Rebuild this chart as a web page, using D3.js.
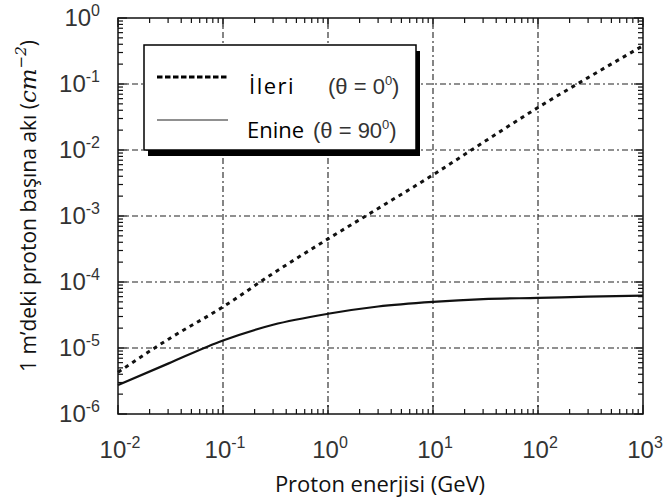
<!DOCTYPE html>
<html>
<head>
<meta charset="utf-8">
<script src="https://cdn.jsdelivr.net/npm/d3@7"></script>
<style>
  body { margin: 0; background: #fff; }
  svg { display: block; }
</style>
</head>
<body>
<div id="chart"></div>
<script>
// energies (GeV) and flux per proton per m (cm^-2)
const energyGeV = [0.01, 0.03, 0.1, 0.3, 1, 3, 10, 30, 100, 300, 1000];
const forwardFlux = [4.3e-6, 1.35e-5, 4.2e-5, 1.35e-4, 4.5e-4, 1.3e-3, 4.2e-3, 1.3e-2, 4.4e-2, 0.125, 0.38];
const transverseFlux = [2.75e-6, 5.8e-6, 1.3e-5, 2.25e-5, 3.3e-5, 4.25e-5, 5.0e-5, 5.5e-5, 5.75e-5, 6.0e-5, 6.2e-5];
const xExponents = [-2, -1, 0, 1, 2, 3];
const yExponents = [-6, -5, -4, -3, -2, -1, 0];

const margin = { top: 18, right: 25, bottom: 90, left: 118 };
const width = 668 - margin.left - margin.right;
const height = 504 - margin.top - margin.bottom;

const svg = d3.select("#chart").append("svg")
  .attr("width", 668)
  .attr("height", 504);

const g = svg.append("g")
  .attr("transform", `translate(${margin.left},${margin.top})`);

const x = d3.scaleLog().domain([1e-2, 1e3]).range([0, width]);
const y = d3.scaleLog().domain([1e-6, 1]).range([height, 0]);

// grid lines (dash-dot) at each decade
const gridDash = "6,3,2,3";
g.selectAll(".vgrid").data(xExponents.slice(1, -1)).enter().append("line")
  .attr("x1", d => x(Math.pow(10, d))).attr("x2", d => x(Math.pow(10, d)))
  .attr("y1", 0).attr("y2", height)
  .attr("stroke", "#222").attr("stroke-width", 1.1)
  .attr("stroke-dasharray", gridDash);
g.selectAll(".hgrid").data(yExponents.slice(1, -1)).enter().append("line")
  .attr("y1", d => y(Math.pow(10, d))).attr("y2", d => y(Math.pow(10, d)))
  .attr("x1", 0).attr("x2", width)
  .attr("stroke", "#222").attr("stroke-width", 1.1)
  .attr("stroke-dasharray", gridDash);

// tick values: majors + minors
function logTicks(exps) {
  const out = [];
  exps.forEach((e, i) => {
    out.push({ v: Math.pow(10, e), major: true });
    if (i < exps.length - 1) {
      for (let k = 2; k <= 9; k++) out.push({ v: k * Math.pow(10, e), major: false });
    }
  });
  return out;
}
const xt = logTicks(xExponents);
const yt = logTicks(yExponents);
const tickStroke = "#111";

// bottom & top ticks (inward)
[height, 0].forEach(y0 => {
  const dir = y0 === 0 ? 1 : -1;
  g.selectAll(null).data(xt).enter().append("line")
    .attr("x1", d => x(d.v)).attr("x2", d => x(d.v))
    .attr("y1", y0).attr("y2", d => y0 + dir * (d.major ? 9 : 5))
    .attr("stroke", tickStroke).attr("stroke-width", 1.2);
});
// left & right ticks (inward)
[0, width].forEach(x0 => {
  const dir = x0 === 0 ? 1 : -1;
  g.selectAll(null).data(yt).enter().append("line")
    .attr("y1", d => y(d.v)).attr("y2", d => y(d.v))
    .attr("x1", x0).attr("x2", d => x0 + dir * (d.major ? 9 : 5))
    .attr("stroke", tickStroke).attr("stroke-width", 1.2);
});

// frame
g.append("rect")
  .attr("width", width).attr("height", height)
  .attr("fill", "none").attr("stroke", "#111").attr("stroke-width", 1.5);

// tick labels 10^n
const tickFont = "'Liberation Sans', Arial, sans-serif";
function powLabel(sel, e) {
  sel.append("tspan").text("10");
  sel.append("tspan").attr("font-size", 16).attr("dy", -10).text(e);
}
xExponents.forEach(e => {
  const t = g.append("text")
    .attr("x", x(Math.pow(10, e)) + 2)
    .attr("y", height + 44)
    .attr("text-anchor", "middle")
    .attr("font-family", tickFont).attr("font-size", 24)
    .attr("fill", "#333");
  powLabel(t, e);
});
yExponents.forEach(e => {
  const t = g.append("text")
    .attr("x", -18)
    .attr("y", y(Math.pow(10, e)) + 8)
    .attr("text-anchor", "end")
    .attr("font-family", tickFont).attr("font-size", 24)
    .attr("fill", "#333");
  powLabel(t, e);
});

// curves
const line = d3.line()
  .x(d => x(d[0]))
  .y(d => y(d[1]))
  .curve(d3.curveMonotoneX);

g.append("path")
  .datum(energyGeV.map((e, i) => [e, forwardFlux[i]]))
  .attr("fill", "none").attr("stroke", "#111")
  .attr("stroke-width", 3).attr("stroke-dasharray", "4,4.5")
  .attr("d", line);

g.append("path")
  .datum(energyGeV.map((e, i) => [e, transverseFlux[i]]))
  .attr("fill", "none").attr("stroke", "#111")
  .attr("stroke-width", 2.2)
  .attr("d", line);

// legend
const lg = svg.append("g").attr("transform", "translate(144,45)");
lg.append("rect").attr("x", 4).attr("y", 6).attr("width", 272).attr("height", 105).attr("fill", "#000");
lg.append("rect").attr("width", 272).attr("height", 105)
  .attr("fill", "#fff").attr("stroke", "#000").attr("stroke-width", 1.5);
lg.append("line").attr("x1", 13).attr("x2", 84).attr("y1", 32).attr("y2", 32)
  .attr("stroke", "#000").attr("stroke-width", 3.2).attr("stroke-dasharray", "5.5,2.5");
lg.append("line").attr("x1", 13).attr("x2", 84).attr("y1", 75).attr("y2", 75)
  .attr("stroke", "#222").attr("stroke-width", 1.2);

const labFont = "'Open Sans', sans-serif";
lg.append("text").attr("x", 105).attr("y", 49)
  .attr("font-family", labFont).attr("font-size", 22).attr("letter-spacing", 1.5)
  .attr("fill", "#000").text("İleri");
const th0 = lg.append("text").attr("x", 184).attr("y", 49)
  .attr("font-family", tickFont).attr("font-size", 22).attr("fill", "#333");
th0.append("tspan").text("(θ = 0");
th0.append("tspan").attr("font-size", 13).attr("dy", -9).text("0");
th0.append("tspan").attr("dy", 9).text(")");

lg.append("text").attr("x", 103).attr("y", 93)
  .attr("font-family", labFont).attr("font-size", 22)
  .attr("fill", "#000").text("Enine");
const th9 = lg.append("text").attr("x", 169).attr("y", 93)
  .attr("font-family", tickFont).attr("font-size", 22).attr("fill", "#333");
th9.append("tspan").text("(θ = 90");
th9.append("tspan").attr("font-size", 13).attr("dy", -9).text("0");
th9.append("tspan").attr("dy", 9).text(")");

// axis titles
svg.append("text")
  .attr("x", 380).attr("y", 492)
  .attr("text-anchor", "middle")
  .attr("font-family", labFont).attr("font-size", 22)
  .attr("fill", "#111")
  .text("Proton enerjisi (GeV)");

const yt1 = svg.append("text")
  .attr("transform", "translate(36,206) rotate(-90)")
  .attr("text-anchor", "middle")
  .attr("font-family", labFont).attr("font-size", 21)
  .attr("fill", "#111");
yt1.append("tspan").text("1 m’deki proton başına akı (");
yt1.append("tspan").attr("font-style", "italic").attr("font-family", "'DejaVu Serif', serif")
  .attr("font-size", 23).text("cm");
yt1.append("tspan").attr("font-style", "italic").attr("font-family", "'DejaVu Serif', serif")
  .attr("font-size", 15).attr("dy", -10).text("−2");
yt1.append("tspan").attr("dy", 10).text(")");
</script>
</body>
</html>
